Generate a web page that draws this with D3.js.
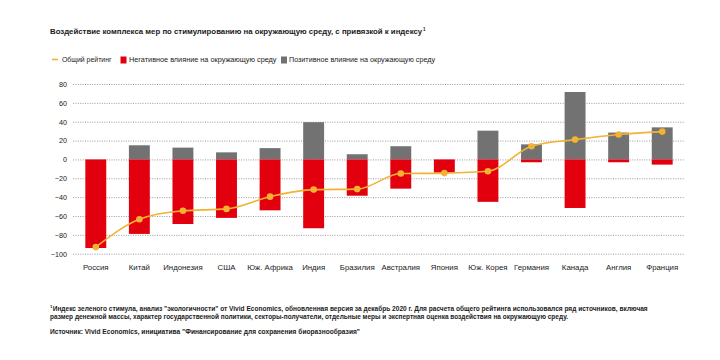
<!DOCTYPE html>
<html><head><meta charset="utf-8">
<script src="https://cdn.jsdelivr.net/npm/d3@7"></script>
<style>
body{margin:0;background:#fff;}
svg{display:block;font-family:"Liberation Sans",Arial,sans-serif;}
</style></head>
<body>
<svg id="chart" width="720" height="360"></svg>
<script>
const categories = ["Россия","Китай","Индонезия","США","Юж. Африка","Индия","Бразилия","Австралия","Япония","Юж. Корея","Германия","Канада","Англия","Франция"];
const negative = [-94,-79,-68.5,-62,-54,-73,-38.5,-31,-14,-45,-3,-51.5,-3,-5.5];
const positive = [0,15,12.5,7.5,12,39.5,5.5,14,0,30.5,16,71.5,28.5,34];
const overall = [-93,-63.5,-54.5,-52.5,-39.5,-32,-31.5,-15,-14.5,-12.5,14,21,26.5,29.5];
const yTicks = [80,60,40,20,0,-20,-40,-60,-80,-100];

const title = "Воздействие комплекса мер по стимулированию на окружающую среду, с привязкой к индексу";
const legendLabels = ["Общий рейтинг","Негативное влияние на окружающую среду","Позитивное влияние на окружающую среду"];
const footnote1 = "Индекс зеленого стимула, анализ \"экологичности\" от Vivid Economics, обновленная версия за декабрь 2020 г. Для расчета общего рейтинга использовался ряд источников, включая";
const footnote2 = "размер денежной массы, характер государственной политики, секторы-получатели, отдельные меры и экспертная оценка воздействия на окружающую среду.";
const source = "Источник: Vivid Economics, инициатива \"Финансирование для сохранения биоразнообразия\"";

const RED = "#e2000f", GRAY = "#727272", GOLD = "#f2b234", TXT = "#1a1a1a";
const svg = d3.select("#chart");

const x = d3.scaleBand().domain(categories).range([74, 684]).paddingInner(0.52).paddingOuter(0.26);
const y = d3.scaleLinear().domain([-100, 80]).range([253.7, 84]);

function fitText(sel, len){ sel.attr("textLength", len).attr("lengthAdjust", "spacingAndGlyphs"); return sel; }

// title
const tt = svg.append("text").attr("x", 50).attr("y", 34).attr("font-size", 7.8).attr("font-weight", "bold").attr("fill", TXT);
tt.append("tspan").text(title);
tt.append("tspan").attr("dx", 1).attr("dy", -3.5).attr("font-size", 4.5).text("1");

// legend
const lg = svg.append("g").attr("font-size", 7).attr("fill", TXT);
lg.append("line").attr("x1", 52).attr("x2", 58).attr("y1", 59.5).attr("y2", 59.5).attr("stroke", GOLD).attr("stroke-width", 1.6);
fitText(lg.append("text").attr("x", 62).attr("y", 62).text(legendLabels[0]), 49.5);
lg.append("rect").attr("x", 120.5).attr("y", 56.5).attr("width", 6).attr("height", 7).attr("fill", RED);
fitText(lg.append("text").attr("x", 129).attr("y", 62).text(legendLabels[1]), 147.5);
lg.append("rect").attr("x", 281).attr("y", 56.5).attr("width", 6).attr("height", 7).attr("fill", GRAY);
fitText(lg.append("text").attr("x", 289).attr("y", 62).text(legendLabels[2]), 146);

// grid
const grid = svg.append("g");
grid.selectAll("line").data(yTicks).join("line")
  .attr("x1", 73).attr("x2", 684)
  .attr("y1", d => y(d) + 0.5).attr("y2", d => y(d) + 0.5)
  .attr("stroke", "#9a9a9a").attr("stroke-width", 1).attr("stroke-dasharray", "1,1.4");

// y axis labels
const yAxis = d3.axisLeft(y).tickValues(yTicks).tickSize(0).tickPadding(0);
const ya = svg.append("g").attr("transform", "translate(67,0)").call(yAxis);
ya.select(".domain").remove();
ya.selectAll("text").attr("font-size", 7.2).attr("fill", TXT).attr("font-family", "Liberation Sans, Arial, sans-serif");

// bars
svg.append("g").selectAll("rect").data(categories).join("rect")
  .attr("x", d => x(d)).attr("width", x.bandwidth())
  .attr("y", (d,i) => y(positive[i])).attr("height", (d,i) => y(0) - y(positive[i]))
  .attr("fill", GRAY);
svg.append("g").selectAll("rect").data(categories).join("rect")
  .attr("x", d => x(d)).attr("width", x.bandwidth())
  .attr("y", y(0)).attr("height", (d,i) => y(negative[i]) - y(0))
  .attr("fill", RED);

// line
const line = d3.line().x((d,i) => x(categories[i]) + x.bandwidth()/2).y(d => y(d)).curve(d3.curveMonotoneX);
svg.append("path").datum(overall).attr("d", line).attr("fill", "none").attr("stroke", GOLD).attr("stroke-width", 1.6);
svg.append("g").selectAll("circle").data(overall).join("circle")
  .attr("cx", (d,i) => x(categories[i]) + x.bandwidth()/2).attr("cy", d => y(d)).attr("r", 3.3).attr("fill", GOLD);

// x axis labels
const xAxis = d3.axisBottom(x).tickSize(0).tickPadding(0);
const xa = svg.append("g").attr("transform", "translate(0,264)").call(xAxis);
xa.select(".domain").remove();
xa.selectAll("text").attr("font-size", 7.8).attr("fill", TXT);

// footnotes
const fn = svg.append("g").attr("font-size", 6.3).attr("fill", TXT).attr("font-weight", "bold");
const f1 = fn.append("text").attr("x", 50).attr("y", 310.5);
f1.append("tspan").attr("dy", -2.5).attr("font-size", 4.3).text("1");
fitText(f1.append("tspan").attr("dx", 0.3).attr("dy", 2.5).text(footnote1), 595);
fitText(fn.append("text").attr("x", 50).attr("y", 318.5).text(footnote2), 518);
fitText(fn.append("text").attr("x", 50).attr("y", 334).text(source), 310);
</script>
</body></html>
